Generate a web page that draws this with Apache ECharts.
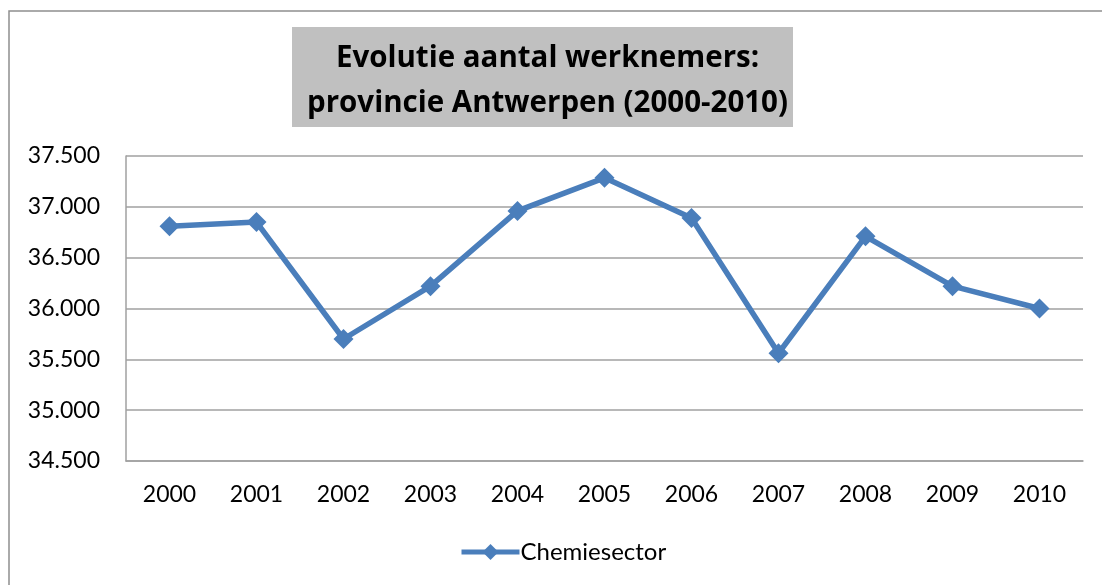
<!DOCTYPE html>
<html>
<head>
<meta charset="utf-8">
<script src="https://cdn.jsdelivr.net/npm/echarts@6/dist/echarts.min.js"></script>
<style>
html,body{margin:0;padding:0;background:#fff;}
#chart{width:1102px;height:585px;}
</style>
</head>
<body>
<div id="chart"></div>
<script>
const years = ['2000','2001','2002','2003','2004','2005','2006','2007','2008','2009','2010'];
const chemiesector = [36810, 36850, 35700, 36220, 36960, 37285, 36890, 35560, 36710, 36220, 36000];
const seriesName = 'Chemiesector';
const titleText = 'Evolutie aantal werknemers:\nprovincie Antwerpen (2000-2010)';

const fmt = v => String(v).replace(/\B(?=(\d{3})+(?!\d))/g, '.');
const FONT = 'Lato';

const chart = echarts.init(document.getElementById('chart'), null, {renderer: 'canvas'});
chart.setOption({
  backgroundColor: '#ffffff',
  animation: false,
  graphic: [
    {type: 'rect', z: -10, shape: {x: 9, y: 11, width: 1100, height: 600},
     style: {fill: '#ffffff', stroke: '#8e8e8e', lineWidth: 1.5}},
    {type: 'rect', z: 0, shape: {x: 292, y: 27, width: 501, height: 100},
     style: {fill: '#c0c0c0'}}
  ],
  title: {
    text: titleText,
    left: 542.5,
    top: 31,
    textAlign: 'center',
    z: 10,
    textStyle: {fontFamily: 'Open Sans', fontWeight: 'bold', fontSize: 29.5, lineHeight: 45, color: '#000'}
  },
  legend: {
    data: [seriesName],
    left: 454,
    top: 535,
    itemWidth: 58,
    itemHeight: 20,
    itemGap: 0,
    lineStyle: {width: 5, color: '#4a7ebb'},
    textStyle: {fontFamily: FONT, fontSize: 24, color: '#000', padding: [0,0,0,-4]}
  },
  grid: {left: 126, right: 19, top: 156, bottom: 124, containLabel: false},
  xAxis: {
    type: 'category',
    data: years,
    boundaryGap: true,
    axisLine: {show: true, lineStyle: {color: '#a0a0a0', width: 1.5}},
    axisTick: {show: false},
    axisLabel: {fontFamily: FONT, fontSize: 23, color: '#000', margin: 22}
  },
  yAxis: {
    type: 'value',
    min: 34500,
    max: 37500,
    interval: 500,
    axisLine: {show: true, lineStyle: {color: '#a0a0a0', width: 1.5}},
    axisTick: {show: false},
    splitLine: {show: true, lineStyle: {color: '#a0a0a0', width: 1.5}},
    axisLabel: {fontFamily: FONT, fontSize: 23, color: '#000', margin: 26, formatter: fmt}
  },
  series: [{
    name: seriesName,
    type: 'line',
    data: chemiesector,
    symbol: 'diamond',
    symbolSize: 20,
    lineStyle: {color: '#4a7ebb', width: 5.5},
    itemStyle: {color: '#4a7ebb'}
  }]
});
</script>
</body>
</html>
